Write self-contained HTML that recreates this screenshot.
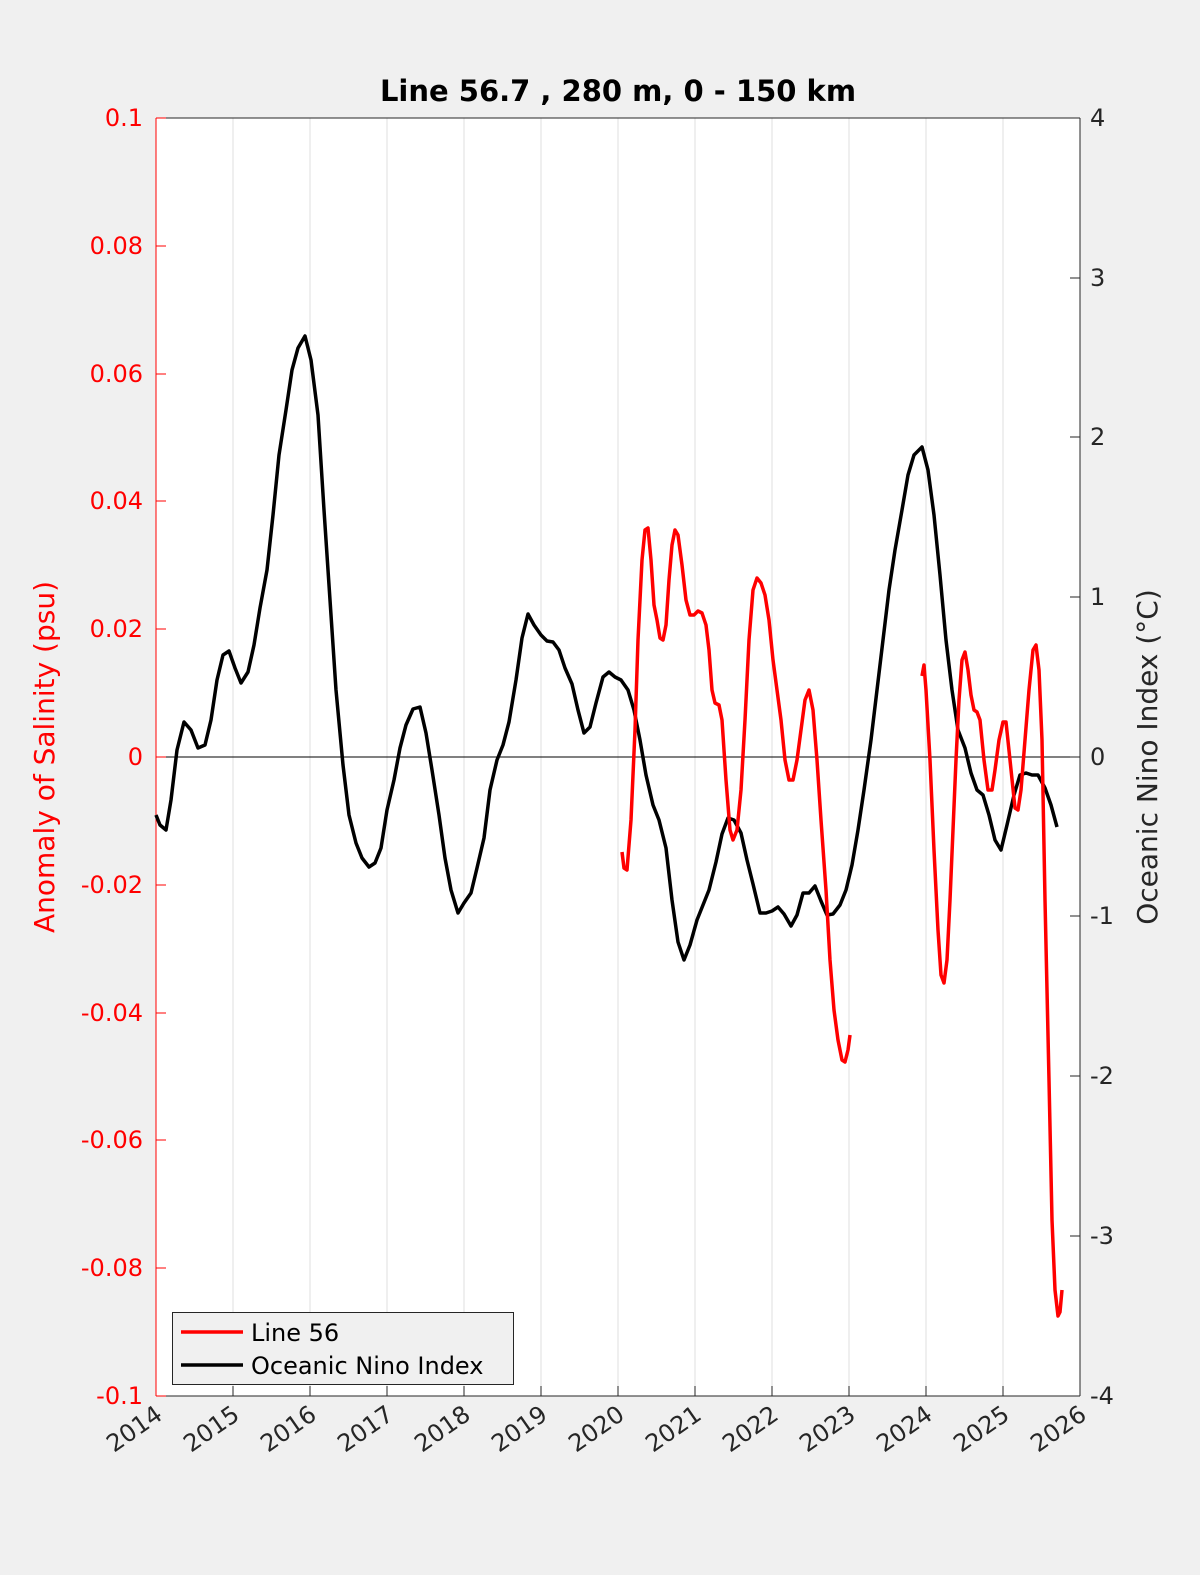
<!DOCTYPE html>
<html><head><meta charset="utf-8"><style>
html,body{margin:0;padding:0;background:#f0f0f0;overflow:hidden;width:1200px;height:1575px;}
svg{display:block;font-family:"DejaVu Sans","Liberation Sans",sans-serif;}
</style></head><body>
<svg width="1200" height="1575" viewBox="0 0 1200 1575" xmlns="http://www.w3.org/2000/svg">
<rect x="0" y="0" width="1200" height="1575" fill="#f0f0f0"/>
<rect x="156" y="118" width="924" height="1278" fill="#fff"/>
<g stroke="#dfdfdf" stroke-width="1">
<line x1="233" y1="118" x2="233" y2="1396"/><line x1="310" y1="118" x2="310" y2="1396"/><line x1="387" y1="118" x2="387" y2="1396"/><line x1="464" y1="118" x2="464" y2="1396"/><line x1="541" y1="118" x2="541" y2="1396"/><line x1="618" y1="118" x2="618" y2="1396"/><line x1="695" y1="118" x2="695" y2="1396"/><line x1="772" y1="118" x2="772" y2="1396"/><line x1="849" y1="118" x2="849" y2="1396"/><line x1="926" y1="118" x2="926" y2="1396"/><line x1="1003" y1="118" x2="1003" y2="1396"/>
</g>
<line x1="156" y1="757" x2="1080" y2="757" stroke="#000" stroke-width="1"/>
<line x1="156" y1="118" x2="1080" y2="118" stroke="#262626" stroke-width="1"/>
<line x1="156" y1="1396" x2="1080" y2="1396" stroke="#262626" stroke-width="1"/>
<line x1="156" y1="118" x2="156" y2="1396" stroke="#f00" stroke-width="1"/>
<line x1="1080" y1="118" x2="1080" y2="1396" stroke="#262626" stroke-width="1"/>
<g stroke="#f00" stroke-width="1">
<line x1="156" y1="118" x2="166" y2="118"/><line x1="156" y1="246" x2="166" y2="246"/><line x1="156" y1="374" x2="166" y2="374"/><line x1="156" y1="501" x2="166" y2="501"/><line x1="156" y1="629" x2="166" y2="629"/><line x1="156" y1="757" x2="166" y2="757"/><line x1="156" y1="885" x2="166" y2="885"/><line x1="156" y1="1013" x2="166" y2="1013"/><line x1="156" y1="1140" x2="166" y2="1140"/><line x1="156" y1="1268" x2="166" y2="1268"/><line x1="156" y1="1396" x2="166" y2="1396"/>
</g>
<g stroke="#262626" stroke-width="1">
<line x1="1070" y1="118" x2="1080" y2="118"/><line x1="1070" y1="278" x2="1080" y2="278"/><line x1="1070" y1="437" x2="1080" y2="437"/><line x1="1070" y1="597" x2="1080" y2="597"/><line x1="1070" y1="757" x2="1080" y2="757"/><line x1="1070" y1="916" x2="1080" y2="916"/><line x1="1070" y1="1076" x2="1080" y2="1076"/><line x1="1070" y1="1236" x2="1080" y2="1236"/><line x1="1070" y1="1396" x2="1080" y2="1396"/>
<line x1="233" y1="1386" x2="233" y2="1396"/><line x1="310" y1="1386" x2="310" y2="1396"/><line x1="387" y1="1386" x2="387" y2="1396"/><line x1="464" y1="1386" x2="464" y2="1396"/><line x1="541" y1="1386" x2="541" y2="1396"/><line x1="618" y1="1386" x2="618" y2="1396"/><line x1="695" y1="1386" x2="695" y2="1396"/><line x1="772" y1="1386" x2="772" y2="1396"/><line x1="849" y1="1386" x2="849" y2="1396"/><line x1="926" y1="1386" x2="926" y2="1396"/><line x1="1003" y1="1386" x2="1003" y2="1396"/>
</g>
<g fill="#f00" font-size="24" text-anchor="end">
<text x="143" y="126">0.1</text><text x="143" y="254">0.08</text><text x="143" y="382">0.06</text><text x="143" y="509">0.04</text><text x="143" y="637">0.02</text><text x="143" y="765">0</text><text x="143" y="893">-0.02</text><text x="143" y="1021">-0.04</text><text x="143" y="1148">-0.06</text><text x="143" y="1276">-0.08</text><text x="143" y="1404">-0.1</text>
</g>
<g fill="#262626" font-size="24" text-anchor="start">
<text x="1090" y="126">4</text><text x="1090" y="286">3</text><text x="1090" y="445">2</text><text x="1090" y="605">1</text><text x="1090" y="765">0</text><text x="1090" y="924">-1</text><text x="1090" y="1084">-2</text><text x="1090" y="1244">-3</text><text x="1090" y="1404">-4</text>
</g>
<g fill="#262626" font-size="24" text-anchor="end">
<text transform="translate(164,1418) rotate(-35)">2014</text>
<text transform="translate(241,1418) rotate(-35)">2015</text>
<text transform="translate(318,1418) rotate(-35)">2016</text>
<text transform="translate(395,1418) rotate(-35)">2017</text>
<text transform="translate(472,1418) rotate(-35)">2018</text>
<text transform="translate(549,1418) rotate(-35)">2019</text>
<text transform="translate(626,1418) rotate(-35)">2020</text>
<text transform="translate(703,1418) rotate(-35)">2021</text>
<text transform="translate(780,1418) rotate(-35)">2022</text>
<text transform="translate(857,1418) rotate(-35)">2023</text>
<text transform="translate(934,1418) rotate(-35)">2024</text>
<text transform="translate(1011,1418) rotate(-35)">2025</text>
<text transform="translate(1088,1418) rotate(-35)">2026</text>
</g>
<text x="54" y="757" fill="#f00" font-size="28" text-anchor="middle" transform="rotate(-90 54 757)">Anomaly of Salinity (psu)</text>
<text x="1157" y="757" fill="#262626" font-size="28" text-anchor="middle" transform="rotate(-90 1157 757)">Oceanic Nino Index (°C)</text>
<text x="618" y="101" fill="#000" font-size="29" font-weight="bold" text-anchor="middle">Line 56.7 , 280 m, 0 - 150 km</text>
<polyline fill="none" stroke="#000" stroke-width="3.5" stroke-linejoin="round" points="156,815 160,825 166,830 171,800 177,750 184,722 191,730 198,748 205,745 211,720 217,680 223,655 229,651 235,668 241,683 248,672 254,645 260,608 267,570 273,515 279,455 286,410 292,370 298,348 305,336 311,360 318,415 324,510 330,600 336,690 343,765 349,815 356,843 362,858 369,867 375,863 381,848 387,810 394,780 400,748 406,725 413,709 420,707 426,733 432,770 439,815 445,858 451,890 458,913 464,903 471,893 477,868 484,838 490,790 497,760 503,745 509,722 516,680 522,638 528,614 534,625 541,635 547,641 553,642 559,650 565,668 572,684 578,710 584,733 590,727 596,703 603,677 609,672 615,677 621,680 628,690 634,710 640,740 646,775 653,805 659,820 666,848 672,900 678,942 684,960 690,945 697,920 703,905 709,890 716,862 722,834 728,818 734,820 741,833 747,860 753,884 760,913 766,913 772,911 778,907 784,914 791,926 797,915 803,893 809,893 815,886 821,901 827,915 833,914 840,905 846,890 852,865 858,830 864,790 871,740 877,690 883,640 889,590 895,550 902,510 908,475 914,455 920,449 922,447 928,470 934,515 940,575 946,640 952,690 958,730 965,748 971,773 977,790 983,795 989,815 995,840 1001,850 1007,825 1014,795 1020,775 1026,773 1032,775 1038,775 1045,788 1051,805 1057,827"/>
<polyline fill="none" stroke="#f00" stroke-width="3.5" stroke-linejoin="round" points="622,852 624,868 627,870 631,820 635,730 638,640 642,560 645,530 648,528 651,560 654,605 657,620 660,638 663,640 666,625 669,580 672,545 675,530 678,535 682,565 686,600 690,615 694,615 698,611 702,613 706,625 709,650 712,690 715,703 719,705 722,720 726,780 730,830 733,840 737,830 741,790 745,720 749,640 753,590 757,578 761,583 765,595 769,620 773,660 777,690 781,720 785,760 789,780 793,780 797,760 801,730 805,700 809,690 813,710 817,760 821,820 826,890 830,960 834,1010 838,1040 842,1060 845,1062 848,1050 850,1035"/>
<polyline fill="none" stroke="#f00" stroke-width="3.5" stroke-linejoin="round" points="922,676 924,665 926,690 930,760 934,850 938,930 941,975 944,983 947,960 950,900 953,830 956,760 959,700 962,660 965,652 968,670 971,695 974,710 977,712 980,720 984,760 988,790 992,790 995,770 999,740 1003,722 1006,722 1010,760 1015,808 1018,810 1021,790 1025,740 1029,690 1033,650 1036,645 1039,670 1042,740 1045,900 1049,1080 1052,1220 1055,1290 1058,1316 1060,1312 1062,1290"/>
<rect x="172.5" y="1312.5" width="341" height="72" fill="#f0f0f0" stroke="#262626" stroke-width="1"/>
<line x1="181" y1="1332" x2="243" y2="1332" stroke="#f00" stroke-width="3.5"/>
<line x1="181" y1="1365" x2="243" y2="1365" stroke="#000" stroke-width="3.5"/>
<text x="251" y="1341" font-size="24" fill="#000">Line 56</text>
<text x="251" y="1374" font-size="24" fill="#000">Oceanic Nino Index</text>
</svg>
</body></html>
